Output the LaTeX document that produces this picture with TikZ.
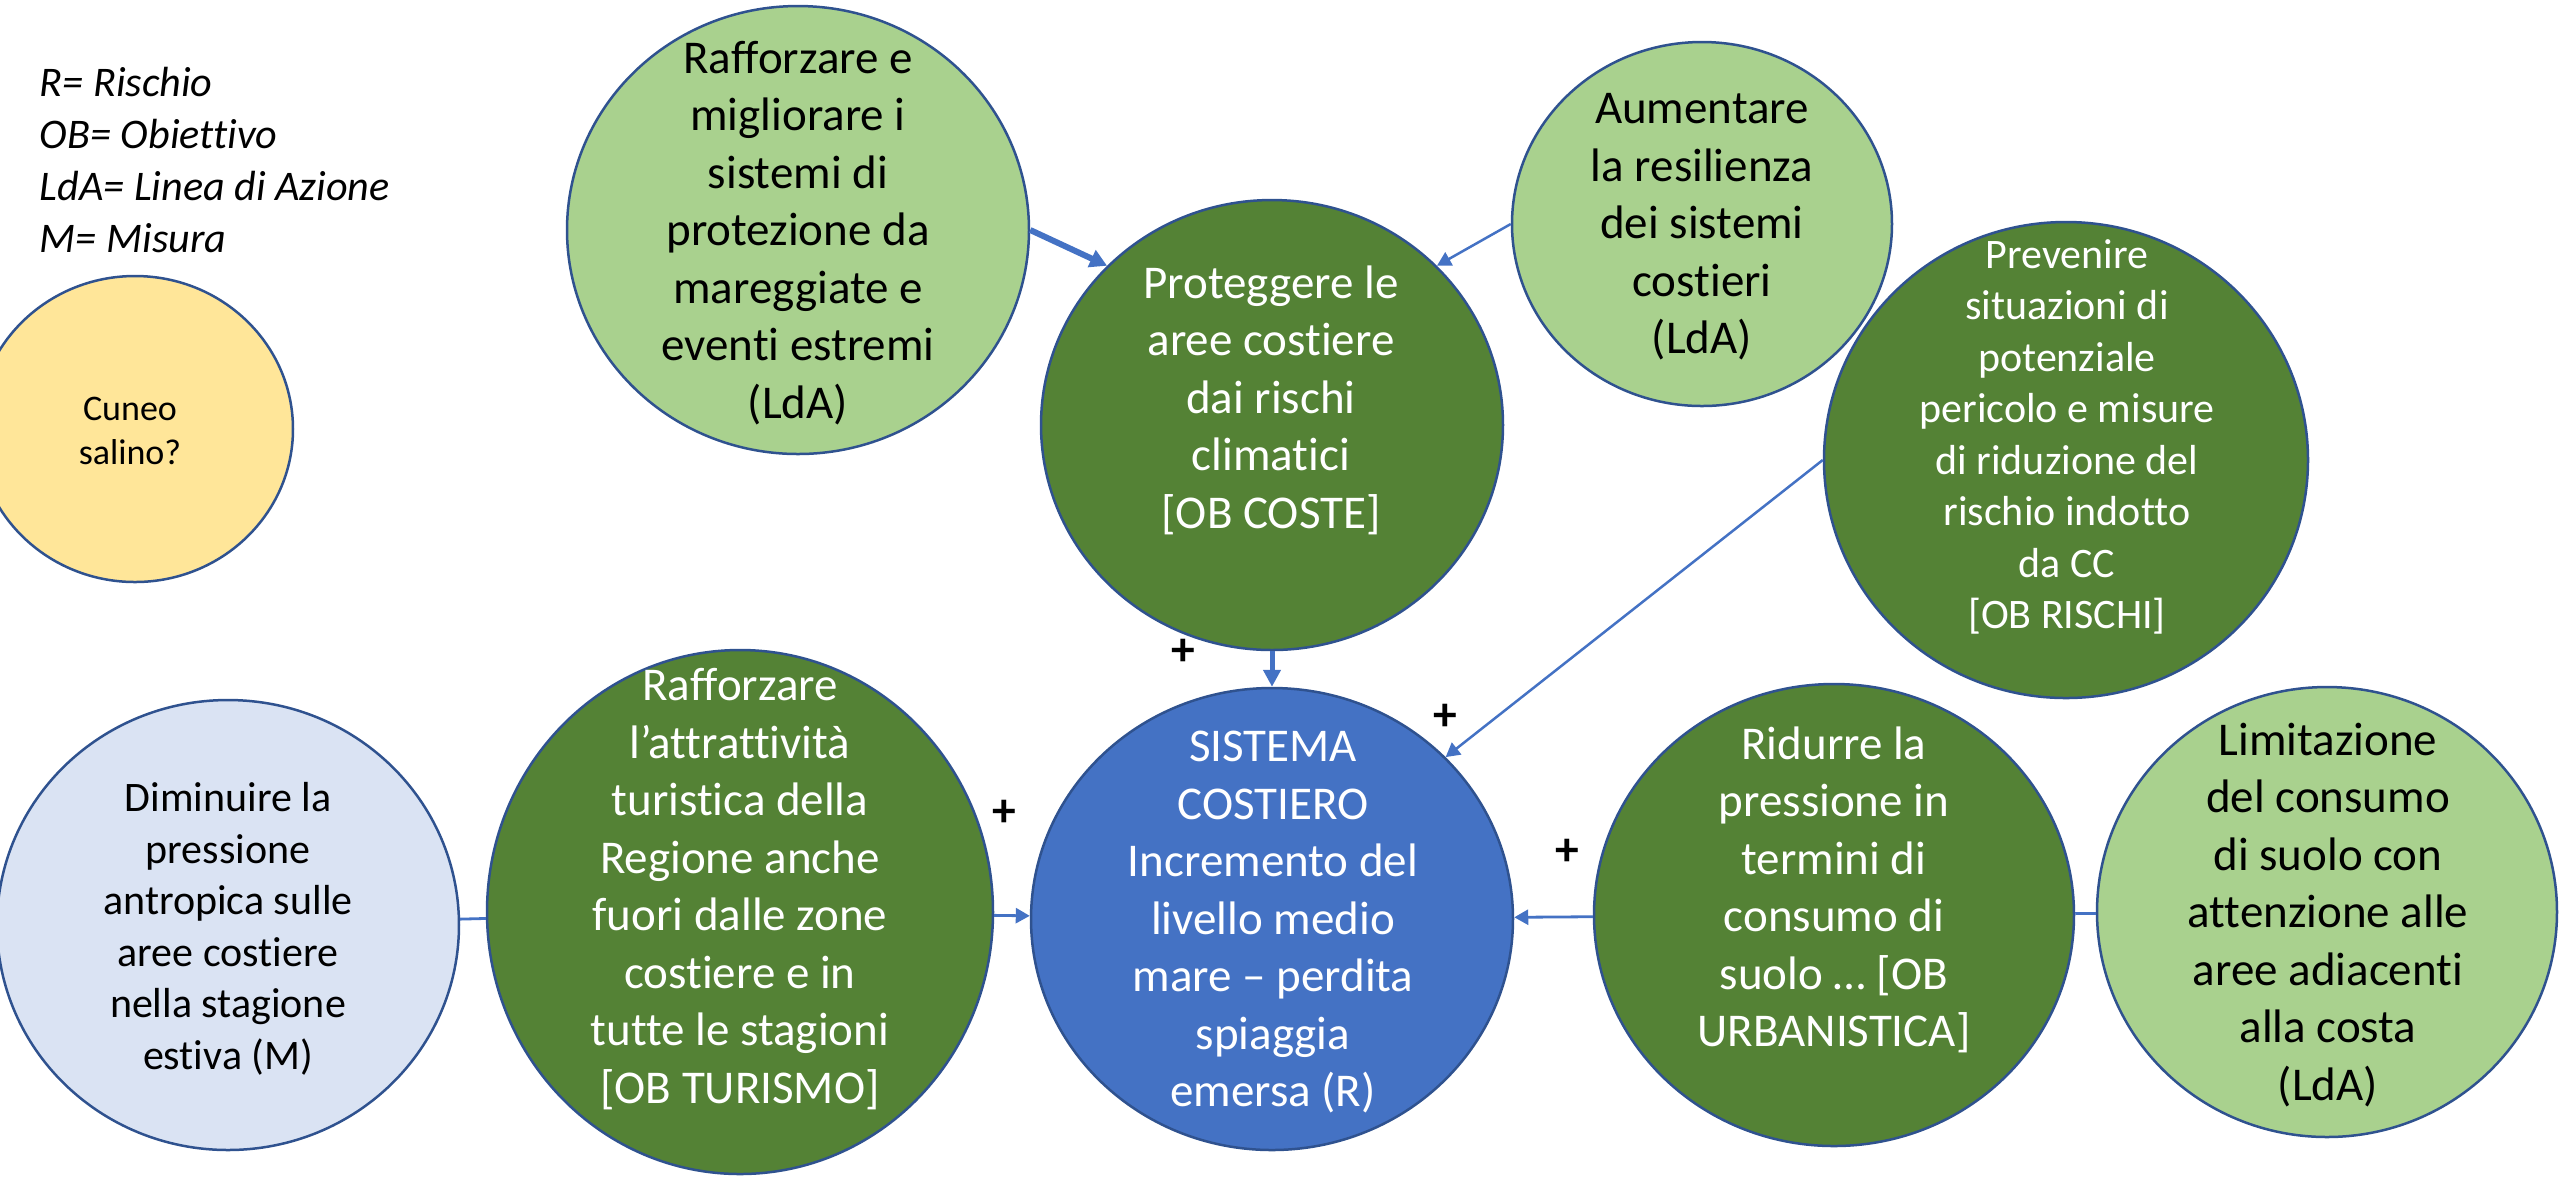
\documentclass[tikz,border=0pt]{standalone}
\usepackage{fontspec}
\setmainfont{Carlito}[Ligatures=NoCommon]
\usetikzlibrary{shapes.geometric,arrows.meta}
\definecolor{dkgreen}{HTML}{548235}
\definecolor{ltgreen}{HTML}{A9D18E}
\definecolor{ltblue}{HTML}{DAE3F3}
\definecolor{ylw}{HTML}{FFE699}
\definecolor{mblue}{HTML}{4472C4}
\definecolor{outl}{HTML}{2F528F}
\tikzset{
  bubble/.style={ellipse, draw=outl, line width=0.25mm, inner sep=0pt},
  bdark/.style={bubble, fill=dkgreen},
  blight/.style={bubble, fill=ltgreen},
  bblue/.style={bubble, fill=mblue},
  bpale/.style={bubble, fill=ltblue},
  byellow/.style={bubble, fill=ylw},
  txt/.style={align=center, inner sep=0pt, font=\fontsize{13.37}{16.36}\selectfont},
  stxt/.style={align=center, inner sep=0pt, font=\fontsize{11.95}{14.65}\selectfont},
  ctxt/.style={align=center, inner sep=0pt, font=\fontsize{10.24}{12.52}\selectfont},
  legtxt/.style={anchor=base west, inner sep=0pt, font=\fontsize{12}{14}\selectfont\itshape},
  plus/.style={inner sep=0pt, font=\fontsize{13.5}{14}\selectfont\bfseries},
  conn/.style={draw=mblue, line width=0.25mm},
  thinarrow/.style={conn, -{Triangle[length=1.4mm, width=1.5mm]}},
  medarrow/.style={conn, line width=0.5mm, -{Triangle[length=1.7mm, width=1.7mm]}},
  thickarrow/.style={conn, line width=0.6mm, -{Triangle[length=1.7mm, width=1.8mm]}}
}
\begin{document}
\begin{tikzpicture}[x=0.1mm, y=-0.1mm]
\useasboundingbox (0,0) rectangle (2560,1181);

% legend
\node[legtxt] (l1) at (39,96) {R= Rischio};
\node[legtxt] (l2) at (39,148) {OB= Obiettivo};
\node[legtxt] (l3) at (39,200) {LdA= Linea di Azione};
\node[legtxt] (l4) at (39,252) {M= Misura};

% bubbles
\node[byellow, minimum width=31.6mm, minimum height=30.6mm] (c10) at (135,429) {};
\node[ctxt] (c10t) at (130,431) {Cuneo\\salino?};

\node[blight, minimum width=46.2mm, minimum height=44.8mm] (c1) at (798,230) {};
\node[txt] (c1t) at (798,233) {Rafforzare e\\migliorare i\\sistemi di\\protezione da\\mareggiate e\\eventi estremi\\(LdA)};

\node[bdark, minimum width=46.2mm, minimum height=45mm] (c2) at (1272,425) {};
\node[txt, text=white] (c2t) at (1271,400) {Proteggere le\\aree costiere\\dai rischi\\climatici\\{[OB COSTE]}};

\node[blight, minimum width=38mm, minimum height=36.4mm] (c3) at (1702,224) {};
\node[txt] (c3t) at (1702,227) {Aumentare\\la resilienza\\dei sistemi\\costieri\\(LdA)};

\node[bdark, minimum width=48.4mm, minimum height=47.6mm] (c4) at (2066,460) {};
\node[stxt, text=white] (c4t) at (2067,437) {Prevenire\\situazioni di\\potenziale\\pericolo e misure\\di riduzione del\\rischio indotto\\da CC\\{[OB RISCHI]}};

\node[bblue, minimum width=48.2mm, minimum height=46.2mm] (c5) at (1272,919) {};
\node[txt, text=white] (c5t) at (1273,922) {SISTEMA\\COSTIERO\\Incremento del\\livello medio\\mare – perdita\\spiaggia\\emersa (R)};

\node[bdark, minimum width=50.6mm, minimum height=52.4mm] (c6) at (740,912) {};
\node[txt, text=white] (c6t) at (740,889) {Rafforzare\\l’attrattività\\turistica della\\Regione anche\\fuori dalle zone\\costiere e in\\tutte le stagioni\\{[OB TURISMO]}};

\node[bpale, minimum width=46.2mm, minimum height=45mm] (c7) at (228,925) {};
\node[stxt] (c7t) at (228,929) {Diminuire la\\pressione\\antropica sulle\\aree costiere\\nella stagione\\estiva (M)};

\node[bdark, minimum width=48mm, minimum height=46.2mm] (c8) at (1834,915) {};
\node[txt, text=white] (c8t) at (1834,890) {Ridurre la\\pressione in\\termini di\\consumo di\\suolo … [OB\\URBANISTICA]};

\node[blight, minimum width=46mm, minimum height=45mm] (c9) at (2327,912) {};
\node[txt] (c9t) at (2328,915) {Limitazione\\del consumo\\di suolo con\\attenzione alle\\aree adiacenti\\alla costa\\(LdA)};

% connectors
\draw[thickarrow] (c1.east) -- (c2.136);
\draw[thinarrow] (c3.west) -- (c2.44);
\draw[thinarrow] (c4.west) -- (c5.43);
\draw[medarrow] (c2.south) -- (c5.north);
\draw[thinarrow, line width=0.28mm] (c6) -- (c5);
\draw[conn, line width=0.28mm] (c7) -- (c6);
\draw[thinarrow, line width=0.28mm] (c8) -- (c5);
\draw[conn, line width=0.28mm] (c9) -- (c8);

% signs
\node[plus] (p1) at (1183,652) {+};
\node[plus] (p2) at (1445,717) {+};
\node[plus] (p3) at (1004,813) {+};
\node[plus] (p4) at (1567,852) {+};
\end{tikzpicture}
\end{document}
